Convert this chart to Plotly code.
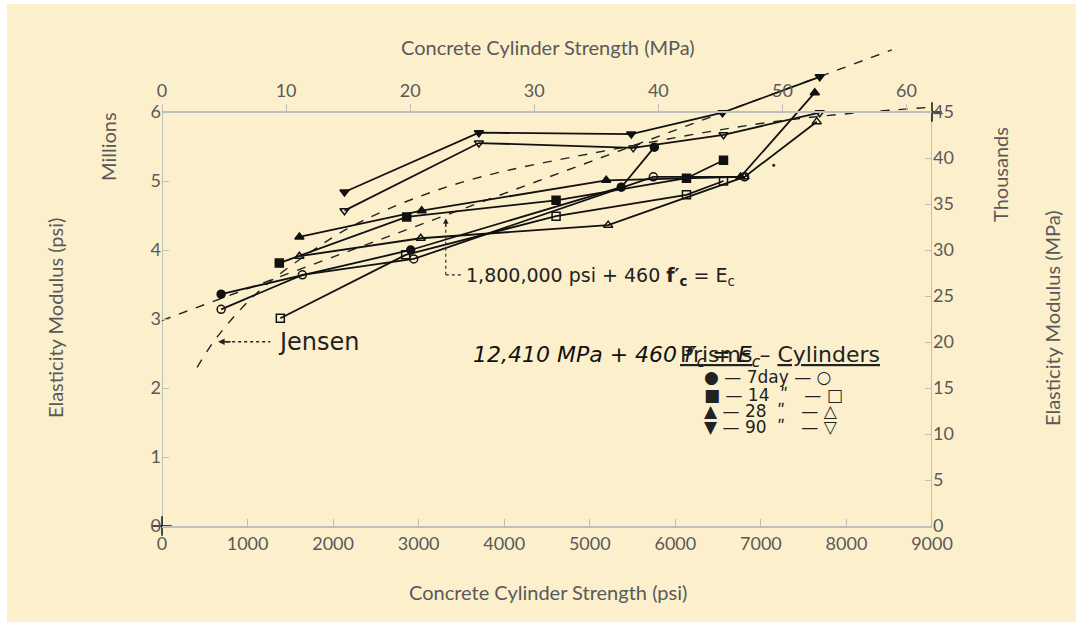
import plotly.graph_objects as go

# ---- data (psi, million psi) ----
prism90_x = [2133, 3704, 5485, 6551, 7688]
prism90_y = [4.84, 5.70, 5.68, 5.99, 6.51]
cyl90_x = [2133, 3704, 5508, 6563, 7688]
cyl90_y = [4.57, 5.55, 5.48, 5.67, 5.99]
prism28_x = [1606, 3035, 5192, 6762, 7630]
prism28_y = [4.19, 4.57, 5.01, 5.06, 6.28]
cyl28_x = [1606, 3024, 5215, 6809, 7653]
cyl28_y = [3.91, 4.17, 4.36, 5.06, 5.86]
prism14_x = [1371, 2860, 4606, 6130, 6563]
prism14_y = [3.81, 4.48, 4.72, 5.04, 5.30]
cyl14_x = [1383, 2848, 4606, 6130, 6563]
cyl14_y = [3.01, 3.93, 4.49, 4.80, 5.00]
prism7_x = [691, 2907, 5368, 5755]
prism7_y = [3.36, 4.00, 4.91, 5.49]
cyl7_x = [691, 1641, 2942, 5743, 6809]
cyl7_y = [3.14, 3.64, 3.87, 5.06, 5.06]

aci_x = [0, 8530]
aci_y = [2.98, 6.90]
jensen_x = [410, 645, 1113, 1770, 2356, 3500, 5403, 7278, 9000]
jensen_y = [2.30, 2.74, 3.38, 4.00, 4.43, 4.98, 5.49, 5.88, 6.07]

bottom_ticks = [0, 1000, 2000, 3000, 4000, 5000, 6000, 7000, 8000, 9000]
top_ticks = [0, 10, 20, 30, 40, 50, 60]
left_ticks = [0, 1, 2, 3, 4, 5, 6]
right_ticks = [0, 5, 10, 15, 20, 25, 30, 35, 40, 45]

W, H = 1084, 631
L, R, T, B = 162, 932, 40, 526      # plot area (extended above the frame)
FRAME_TOP = 112                      # pixel row of the 6-million / top axis line
YMAX = 6 * (B - T) / (B - FRAME_TOP)
Y2MAX = 45 * (B - T) / (B - FRAME_TOP)


def xp(px):
    return (px - L) / (R - L)


def yp(py):
    return (B - py) / (B - T)


fig = go.Figure()

fig.add_trace(go.Scatter(x=aci_x, y=aci_y, mode="lines",
                         line=dict(color="#222", width=1.4, dash="dash")))
fig.add_trace(go.Scatter(x=jensen_x, y=jensen_y, mode="lines", line_shape="spline",
                         line=dict(color="#222", width=1.4, dash="dash")))

series = [
    (prism90_x, prism90_y, "triangle-down"),
    (cyl90_x, cyl90_y, "triangle-down-open"),
    (prism28_x, prism28_y, "triangle-up"),
    (cyl28_x, cyl28_y, "triangle-up-open"),
    (prism14_x, prism14_y, "square"),
    (cyl14_x, cyl14_y, "square-open"),
    (prism7_x, prism7_y, "circle"),
    (cyl7_x, cyl7_y, "circle-open"),
]
for sx, sy, sym in series:
    fig.add_trace(go.Scatter(x=sx, y=sy, mode="lines+markers",
                             line=dict(color="#111", width=1.8),
                             marker=dict(symbol=sym, size=8, color="#111",
                                         line=dict(color="#111", width=1.5))))

# corner crosses
fig.add_trace(go.Scatter(x=[0, 9000], y=[0, 6], mode="markers", cliponaxis=False,
                         marker=dict(symbol="cross-thin", size=14,
                                     line=dict(color="#111", width=1.5))))
# stray dot of the scan
fig.add_trace(go.Scatter(x=[7150], y=[5.23], mode="markers",
                         marker=dict(size=3, color="#222")))
# dummy trace for secondary axes
fig.add_trace(go.Scatter(x=[0], y=[0], xaxis="x2", yaxis="y2", mode="markers",
                         marker=dict(opacity=0), hoverinfo="skip"))

grey = "#595959"
axis_font = dict(family="Lato, Open Sans, sans-serif", size=18, color=grey)
line_col = "#BFBFBF"

fig.update_layout(
    width=W, height=H,
    margin=dict(l=L, r=W - R, t=T, b=H - B),
    paper_bgcolor="white",
    plot_bgcolor="rgba(0,0,0,0)",
    showlegend=False,
    xaxis=dict(range=[0, 9000], tickvals=bottom_ticks, ticks="inside", ticklen=7,
               tickcolor=line_col, showline=True, linecolor=line_col, linewidth=2,
               showgrid=False, zeroline=False, tickfont=axis_font),
    xaxis2=dict(range=[0, 9000 / 145.04], tickvals=top_ticks, overlaying="x", side="top",
                anchor="free", position=yp(FRAME_TOP), ticks="outside", ticklen=7,
                tickcolor=line_col, showline=True, linecolor=line_col, linewidth=2,
                showgrid=False, zeroline=False, tickfont=axis_font),
    yaxis=dict(range=[0, YMAX], tickvals=left_ticks, ticks="inside", ticklen=7,
               tickcolor=line_col, showline=False, showgrid=False, zeroline=False,
               tickfont=axis_font),
    yaxis2=dict(range=[0, Y2MAX], tickvals=right_ticks, overlaying="y", side="right",
                anchor="x", ticks="inside", ticklen=7, tickcolor=line_col,
                showline=False, showgrid=False, zeroline=False, tickfont=axis_font),
    shapes=[
        dict(type="rect", xref="paper", yref="paper", layer="below",
             x0=xp(7), x1=xp(1076), y0=yp(622), y1=yp(4),
             fillcolor="#FCF0CC", line=dict(width=0)),
        # left and right frame lines
        dict(type="line", xref="x", yref="y", x0=0, x1=0, y0=0, y1=6, layer="below",
             line=dict(color=line_col, width=2)),
        dict(type="line", xref="x", yref="y", x0=9000, x1=9000, y0=0, y1=6, layer="below",
             line=dict(color=line_col, width=2)),
        # Jensen dotted pointer
        dict(type="line", xref="x", yref="y", x0=680, x1=1266, y0=2.67, y1=2.67,
             line=dict(color="#222", width=1.3, dash="dot")),
        # 1,800,000 pointer
        dict(type="line", xref="x", yref="y", x0=3317, x1=3317, y0=3.64, y1=4.40,
             line=dict(color="#222", width=1.1, dash="dot")),
        dict(type="line", xref="x", yref="y", x0=3317, x1=3500, y0=3.64, y1=3.64,
             line=dict(color="#222", width=1.1, dash="dot")),
    ],
)

title_font = dict(family="Lato, Open Sans, sans-serif", size=20, color=grey)
ann = [
    dict(text="Concrete Cylinder Strength (MPa)", x=xp(548), y=yp(47)),
    dict(text="Concrete Cylinder Strength (psi)", x=xp(548), y=yp(592)),
    dict(text="Elasticity Modulus (psi)", x=xp(55), y=yp(318), textangle=-90),
    dict(text="Millions", x=xp(108), y=yp(147), textangle=-90),
    dict(text="Thousands", x=xp(1000), y=yp(175), textangle=-90),
    dict(text="Elasticity Modulus (MPa)", x=xp(1052), y=yp(318), textangle=-90),
]
for a in ann:
    fig.add_annotation(xref="paper", yref="paper", showarrow=False,
                       xanchor="center", yanchor="middle", font=title_font, **a)

fig.add_annotation(x=3528, y=3.61, xref="x", yref="y", xanchor="left", yanchor="middle",
                   showarrow=False, font=dict(family="DejaVu Sans", size=19, color="#222"),
                   text="1,800,000 psi + 460 <b>f′<sub>c</sub></b> = E<sub>c</sub>")
fig.add_annotation(x=1336, y=2.67, xref="x", yref="y", xanchor="left", yanchor="middle",
                   showarrow=False, font=dict(family="DejaVu Sans", size=24, color="#222"),
                   text="Jensen")
# arrow heads
fig.add_annotation(x=656, y=2.67, xref="x", yref="y", ax=14, ay=0, text="",
                   showarrow=True, arrowhead=2, arrowsize=1, arrowwidth=1.3, arrowcolor="#222")
fig.add_annotation(x=3317, y=4.46, xref="x", yref="y", ax=0, ay=10, text="",
                   showarrow=True, arrowhead=2, arrowsize=1, arrowwidth=1.1, arrowcolor="#222")

fig.add_annotation(x=3610, y=2.45, xref="x", yref="y", xanchor="left", yanchor="middle",
                   showarrow=False,
                   font=dict(family="DejaVu Sans", size=22, color="#111"),
                   text="<i>12,410 MPa + 460 f′<sub>c</sub> = E<sub>c</sub></i>")

fig.add_annotation(x=6036, y=2.48, xref="x", yref="y", xanchor="left", yanchor="middle",
                   showarrow=False, font=dict(family="DejaVu Sans", size=22, color="#222"),
                   text="<u>Prisms</u> – <u>Cylinders</u>")
rows = ["● — 7day — ○", "■ — 14  ʺ   — □", "▲ — 28  ʺ   — △", "▼ — 90  ʺ   — ▽"]
row_y = [2.16, 1.90, 1.67, 1.43]
for t, ry in zip(rows, row_y):
    fig.add_annotation(x=6306, y=ry, xref="x", yref="y", xanchor="left", yanchor="middle",
                       showarrow=False, font=dict(family="DejaVu Sans", size=17, color="#222"),
                       text=t)

fig.write_html("out.html")
